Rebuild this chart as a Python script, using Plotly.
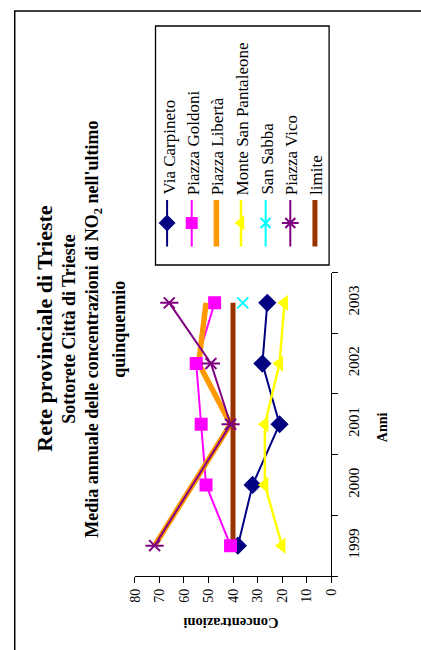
import plotly.graph_objects as go

# ---------------- data ----------------
years = ["1999", "2000", "2001", "2002", "2003"]
via_carpineto = [38, 32, 21, 28, 26]
piazza_goldoni = [41, 51, 53, 55, 47.5]
piazza_liberta = [72, None, 41, 54, 51]
monte_san_pantaleone = [20, 27, 27, 21, 19]
san_sabba = [None, None, None, None, 36]
piazza_vico = [72, None, 41, 49, 66]
limite = [40, 40, 40, 40, 40]

series_names = ["Via Carpineto", "Piazza Goldoni", "Piazza Libertà",
                "Monte San Pantaleone", "San Sabba", "Piazza Vico", "limite"]
series_values = [via_carpineto, piazza_goldoni, piazza_liberta,
                 monte_san_pantaleone, san_sabba, piazza_vico, limite]
value_ticks = [0, 10, 20, 30, 40, 50, 60, 70, 80]

title_lines = ["Rete provinciale di Trieste",
               "Sottorete Città di Trieste",
               "Media annuale delle concentrazioni di NO<sub>2</sub> nell'ultimo",
               "quinquennio"]
x_title = "Concentrazioni"
y_title = "Anni"

# ---------------- styles ----------------
W, H = 421, 650
FONT = "Liberation Serif"

def px(x):
    return x / W

def py(y):
    return 1 - y / H

styles = [
    dict(color="#000080", width=2, symbol="diamond", size=14, mlw=0),
    dict(color="#FF00FF", width=2, symbol="square", size=13, mlw=0),
    dict(color="#FF9900", width=5.5, symbol=None, size=0, mlw=0),
    dict(color="#FFFF00", width=2.5, symbol="triangle-left", size=14, mlw=0),
    dict(color="#00FFFF", width=2, symbol="x-thin-open", size=11, mlw=2),
    dict(color="#800080", width=2, symbol="x-thin-open", size=11, mlw=2),
    dict(color="#993300", width=5, symbol=None, size=0, mlw=0),
]

fig = go.Figure()

# lines first (series order), then markers on top
for name, vals, st in zip(series_names, series_values, styles):
    fig.add_trace(go.Scatter(
        x=vals, y=years, mode="lines", connectgaps=True, name=name,
        line=dict(color=st["color"], width=st["width"]),
        showlegend=False, hoverinfo="skip"))

for name, vals, st in zip(series_names, series_values, styles):
    if st["symbol"] is None:
        continue
    fig.add_trace(go.Scatter(
        x=vals, y=years, mode="markers", name=name,
        marker=dict(symbol=st["symbol"], size=st["size"], color=st["color"],
                    line=dict(color=st["color"], width=st["mlw"])),
        showlegend=False))
    if name == "Piazza Vico":
        fig.add_trace(go.Scatter(
            x=vals, y=years, mode="markers", name=name,
            marker=dict(symbol="line-ew-open", size=13, color=st["color"],
                        line=dict(color=st["color"], width=2)),
            showlegend=False))

# ---------------- custom rotated legend ----------------
leg_line_y = [0.077, 0.176, 0.272]
for i, (name, st) in enumerate(zip(series_names, styles)):
    fig.add_trace(go.Scatter(
        x=[i] * 3, y=leg_line_y, xaxis="x2", yaxis="y2", mode="lines",
        line=dict(color=st["color"], width=st["width"]),
        showlegend=False, hoverinfo="skip"))
    if st["symbol"] is not None:
        fig.add_trace(go.Scatter(
            x=[i], y=[leg_line_y[1]], xaxis="x2", yaxis="y2", mode="markers",
            marker=dict(symbol=st["symbol"], size=st["size"] - 1, color=st["color"],
                        line=dict(color=st["color"], width=st["mlw"])),
            showlegend=False, hoverinfo="skip"))
        if name == "Piazza Vico":
            fig.add_trace(go.Scatter(
                x=[i], y=[leg_line_y[1]], xaxis="x2", yaxis="y2", mode="markers",
                marker=dict(symbol="line-ew-open", size=12, color=st["color"],
                            line=dict(color=st["color"], width=2)),
                showlegend=False, hoverinfo="skip"))

annotations = []
for i, name in enumerate(series_names):
    annotations.append(dict(
        text=name, xref="x2", x=i + 0.08, yref="paper", y=py(197),
        xanchor="center", yanchor="bottom", textangle=-90, showarrow=False,
        font=dict(family=FONT, size=17, color="black")))

# titles
title_x = [38, 64, 89, 116]
title_size = [22, 18, 18, 18]
for t, xx, sz in zip(title_lines, title_x, title_size):
    annotations.append(dict(
        text="<b>" + t + "</b>", xref="paper", yref="paper",
        x=px(xx), y=py(329), xanchor="center", yanchor="middle",
        textangle=-90, showarrow=False,
        font=dict(family=FONT, size=sz, color="black")))

annotations.append(dict(
    text="<b>" + y_title + "</b>", xref="paper", yref="paper",
    x=px(389), y=py(427), xanchor="center", yanchor="middle",
    textangle=-90, showarrow=False, font=dict(family=FONT, size=14, color="black")))
annotations.append(dict(
    text="<b>" + x_title + "</b>", xref="paper", yref="paper",
    x=px(232), y=py(623), xanchor="center", yanchor="middle",
    textangle=180, showarrow=False, font=dict(family=FONT, size=14.5, color="black")))

shapes = [
    dict(type="rect", xref="paper", yref="paper", x0=px(8), x1=1.05,
         y0=py(11), y1=-0.05, line=dict(color="black", width=1.5)),
    dict(type="rect", xref="paper", yref="paper", x0=px(154), x1=px(334),
         y0=py(26), y1=py(265), line=dict(color="black", width=1.3)),
]

fig.update_layout(
    width=W, height=H, autosize=False,
    margin=dict(l=0, r=0, t=0, b=0),
    paper_bgcolor="white", plot_bgcolor="white",
    showlegend=False,
    font=dict(family=FONT, color="black"),
    xaxis=dict(domain=[px(132.7), px(336)], range=[80, 0], anchor="y",
               tickvals=value_ticks, ticktext=[str(v) for v in value_ticks],
               tickangle=-90, ticks="outside", ticklen=6, tickcolor="black",
               showline=True, linecolor="black", linewidth=1.2,
               showgrid=False, zeroline=False,
               tickfont=dict(family=FONT, size=14, color="black")),
    yaxis=dict(domain=[py(576), py(272.5)], type="category",
               categoryorder="array", categoryarray=years,
               range=[-0.5, 4.5], side="right", anchor="x",
               tickson="boundaries", tickangle=-90, ticks="outside",
               ticklen=6, tickcolor="black", ticklabelstandoff=9,
               showline=True, linecolor="black", linewidth=1.2,
               showgrid=False, zeroline=False,
               tickfont=dict(family=FONT, size=15, color="black")),
    xaxis2=dict(domain=[px(154), px(334)], range=[-0.47, 6.575], anchor="y2",
                visible=False),
    yaxis2=dict(domain=[py(265), py(26)], range=[0, 1], anchor="x2",
                visible=False),
    annotations=annotations,
    shapes=shapes,
)

fig.write_html("out.html",
               config={"displayModeBar": False},
               post_script="document.body.style.margin='0px';"
                           "document.body.style.overflow='hidden';")
